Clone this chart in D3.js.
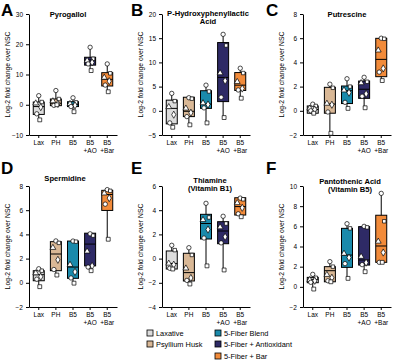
<!DOCTYPE html>
<html lang="en">
<head>
    <meta charset="UTF-8">
    <title>Metabolite fold change by treatment</title>
    <script src="https://cdn.jsdelivr.net/npm/d3@7"></script>
    <style>
        body { margin: 0; background: #fff; }
        svg { font-family: "Liberation Sans", Arial, sans-serif; }
        .tick text { font-size: 6.5px; fill: #000; }
        .tick line, .domain { stroke: #000; stroke-width: 1px; }
        .title { font-size: 7.6px; font-weight: bold; }
        .letter { font-size: 17px; font-weight: bold; }
        .ylab { font-size: 6.8px; }
        .legend text { font-size: 7.4px; }
    </style>
</head>
<body>
<script>
    // groups and colours
    const groups = ["Lax", "PH", "B5", "B5+AO", "B5+Bar"];
    const groupNames = ["Laxative", "Psyllium Husk", "5-Fiber Blend", "5-Fiber + Antioxidant", "5-Fiber + Bar"];
    const groupColors = ["#dcdcdc", "#d9b896", "#1a8aab", "#2e2a66", "#f28b3a"];

    const titles = [
        ["Pyrogallol"],
        ["P-Hydroxyphenyllactic", "Acid"],
        ["Putrescine"],
        ["Spermidine"],
        ["Thiamine", "(Vitamin B1)"],
        ["Pantothenic Acid", "(Vitamin B5)"]
    ];
    const letters = ["A", "B", "C", "D", "E", "F"];
    const yDomains = [[-10, 30], [-5, 20], [-2, 8], [-2, 8], [-4, 6], [-2, 10]];
    const yTicks = [
        [-10, 0, 10, 20, 30],
        [-5, 0, 5, 10, 15, 20],
        [-2, 0, 2, 4, 6, 8],
        [-2, 0, 2, 4, 6, 8],
        [-4, -2, 0, 2, 4, 6],
        [-2, 0, 2, 4, 6, 8, 10]
    ];

    // box stats per panel, per group: [min, q1, median, q3, max]
    const boxStats = [
        [[-5.0, -3.2, -0.6, 0.9, 3.0], [-0.3, -0.3, 0.5, 1.9, 4.7], [-2.3, -0.6, 0.1, 1.0, 2.3], [11.3, 13.1, 14.8, 15.7, 19.0], [4.3, 6.2, 8.4, 10.6, 13.5]],
        [[-3.4, -2.7, 0.5, 2.2, 3.6], [-2.9, -1.2, -0.1, 2.8, 2.9], [-2.5, 0.5, 1.4, 4.15, 5.3], [-1.4, 1.9, 6.9, 14.1, 15.8], [2.6, 4.2, 5.3, 7.9, 8.8]],
        [[-0.2, -0.2, 0.1, 0.4, 0.55], [-1.86, -0.2, 0.56, 1.94, 2.2], [0.2, 0.6, 1.66, 2.05, 2.65], [0.25, 1.03, 1.78, 2.46, 2.77], [2.5, 2.82, 4.25, 5.99, 6.0]],
        [[-0.32, 0.17, 0.67, 1.0, 1.16], [0.64, 1.0, 2.38, 3.4, 3.46], [-0.03, 0.37, 1.3, 3.45, 3.45], [1.0, 1.4, 3.2, 4.1, 4.1], [3.6, 5.98, 7.3, 7.64, 7.7]],
        [[-0.86, -0.86, -0.4, 0.63, 1.1], [-2.1, -1.85, -1.16, 0.44, 0.9], [-0.6, 1.62, 2.9, 3.66, 4.57], [-0.94, 1.23, 2.28, 3.05, 3.5], [3.46, 3.6, 4.3, 5.03, 5.03]],
        [[-0.22, 0.41, 0.74, 0.94, 1.24], [0.5, 0.5, 1.6, 2.0, 2.5], [0.84, 1.93, 3.15, 5.8, 6.26], [1.5, 2.16, 2.66, 5.97, 6.0], [2.43, 2.43, 4.05, 7.1, 9.27]]
    ];

    // individual subjects per panel, per group
    const points = [
        [[3.0, 0.9, 0.5, -0.8, -3.0, -5.0], [4.7, 1.9, 1.2, 0.3, -0.2, 0.0], [2.3, 0.8, 0.3, -0.2, -0.6, -2.3], [19.0, 15.2, 14.6, 14.0, 13.5, 11.3], [13.5, 10.4, 9.0, 7.8, 6.5, 4.3]],
        [[3.6, 2.0, 0.8, -0.8, -2.5, -3.4], [2.7, 2.5, 0.5, -0.4, -1.2, -2.9], [5.3, 4.0, 1.6, 1.3, 0.6, -2.5], [15.8, 13.5, 7.8, 6.2, 2.8, -1.4], [8.8, 7.8, 6.0, 4.6, 4.3, 2.6]],
        [[0.55, 0.4, 0.2, 0.1, 0.0, -0.2], [2.2, 1.9, 0.6, 0.5, -0.1, -1.86], [2.65, 2.0, 1.7, 1.5, 0.7, 0.2], [2.77, 2.4, 2.3, 1.4, 1.2, 0.25], [6.0, 5.95, 5.0, 3.5, 3.2, 2.5]],
        [[1.16, 1.0, 0.8, 0.5, 0.3, -0.32], [3.46, 3.3, 2.9, 1.9, 1.1, 0.64], [3.45, 3.4, 1.5, 0.9, 0.4, -0.03], [4.05, 3.9, 2.6, 1.4, 1.3, 1.0], [7.7, 7.6, 7.4, 7.0, 6.5, 3.6]],
        [[1.1, 0.7, -0.4, -0.5, -0.8, -0.86], [0.9, 0.3, -0.8, -1.6, -1.8, -2.1], [4.57, 3.4, 3.2, 2.4, 1.7, -0.6], [3.5, 2.9, 2.6, 1.8, 1.3, -0.94], [5.0, 4.9, 4.6, 4.2, 3.7, 3.46]],
        [[1.24, 0.9, 0.7, 0.6, 0.45, -0.22], [2.5, 2.0, 1.2, 0.9, 0.6, 0.5], [6.26, 5.8, 3.3, 2.9, 2.3, 0.84], [6.0, 5.9, 3.0, 2.4, 2.2, 1.5], [9.27, 6.5, 4.5, 3.4, 2.43, 2.43]]
    ];

    const symbolTypes = [d3.symbolCircle, d3.symbolSquare, d3.symbolTriangle, d3.symbolDiamond, d3.symbolCircle, d3.symbolSquare];
    const jitter = [0, 3, -3, 2, -2, 1];

    const svg = d3.select("body").append("svg")
        .attr("width", 400)
        .attr("height", 363);

    const colX = [29, 162, 303];
    const rowY = [[14, 135], [186, 307]];
    const titleX = [68, 208, 347, 65, 210, 350];
    const titleY = [17, 15.5, 17, 181, 183, 184];
    const letterPos = [[1, 16], [131, 16], [266, 16], [1, 174], [131, 174], [266, 174]];

    letters.forEach((letter, p) => {
        const ax = colX[p % 3];
        const [top, bottom] = rowY[Math.floor(p / 3)];

        const x = d3.scaleBand().domain(groups).range([ax, ax + 88]).paddingOuter(0.07).paddingInner(0);
        const y = d3.scaleLinear().domain(yDomains[p]).range([bottom, top]);

        const g = svg.append("g");

        g.append("text").attr("class", "letter")
            .attr("x", letterPos[p][0]).attr("y", letterPos[p][1])
            .text(letter);

        const t = g.append("text").attr("class", "title").attr("text-anchor", "middle");
        titles[p].forEach((line, i) => {
            t.append("tspan").attr("x", titleX[p]).attr("y", titleY[p] + i * 8).text(line);
        });

        g.append("text").attr("class", "ylab")
            .attr("text-anchor", "middle")
            .attr("transform", `translate(${ax - 19},${(top + bottom) / 2}) rotate(-90)`)
            .text("Log-2 fold change over NSC");

        g.append("g")
            .attr("transform", `translate(${ax},0)`)
            .call(d3.axisLeft(y).tickValues(yTicks[p]).tickSize(3).tickSizeOuter(0));

        const xAxis = g.append("g")
            .attr("transform", `translate(0,${bottom})`)
            .call(d3.axisBottom(x).tickSize(3).tickSizeOuter(0).tickFormat(""));
        xAxis.selectAll(".tick").append("text")
            .attr("text-anchor", "middle")
            .attr("fill", "#000")
            .each(function (d) {
                const parts = d.split("+");
                const sel = d3.select(this);
                parts.forEach((part, i) => {
                    sel.append("tspan").attr("x", 0).attr("y", 10 + i * 8)
                        .text(i === 0 ? part : "+" + part);
                });
            });

        const bw = 11;
        groups.forEach((grp, gi) => {
            const cx = x(grp) + x.bandwidth() / 2;
            const [mn, q1, med, q3, mx] = boxStats[p][gi];

            g.append("line")
                .attr("x1", cx).attr("x2", cx)
                .attr("y1", y(mx)).attr("y2", y(mn))
                .attr("stroke", "#000").attr("stroke-width", 1);

            g.append("rect")
                .attr("x", cx - bw / 2).attr("width", bw)
                .attr("y", y(q3)).attr("height", Math.max(0.5, y(q1) - y(q3)))
                .attr("fill", groupColors[gi])
                .attr("stroke", "#000").attr("stroke-width", 1);

            g.append("line")
                .attr("x1", cx - bw / 2).attr("x2", cx + bw / 2)
                .attr("y1", y(med)).attr("y2", y(med))
                .attr("stroke", "#000").attr("stroke-width", 1);

            points[p][gi].forEach((v, k) => {
                g.append("path")
                    .attr("d", d3.symbol().type(symbolTypes[k]).size(k === 1 ? 12 : 15)())
                    .attr("transform", `translate(${cx + jitter[k]},${y(v)})`)
                    .attr("fill", "#fff")
                    .attr("stroke", "#000").attr("stroke-width", 0.7);
            });
        });
    });

    // legend
    const legendPos = [[147, 333], [147, 344], [215, 333], [215, 344], [215, 356]];
    const legend = svg.append("g").attr("class", "legend");
    groupNames.forEach((name, i) => {
        const [lx, ly] = legendPos[i];
        legend.append("rect")
            .attr("x", lx).attr("y", ly - 3)
            .attr("width", 6).attr("height", 6)
            .attr("fill", groupColors[i])
            .attr("stroke", "#000").attr("stroke-width", 0.8);
        legend.append("text")
            .attr("x", lx + 9).attr("y", ly + 2.6)
            .text(name);
    });
</script>
</body>
</html>
